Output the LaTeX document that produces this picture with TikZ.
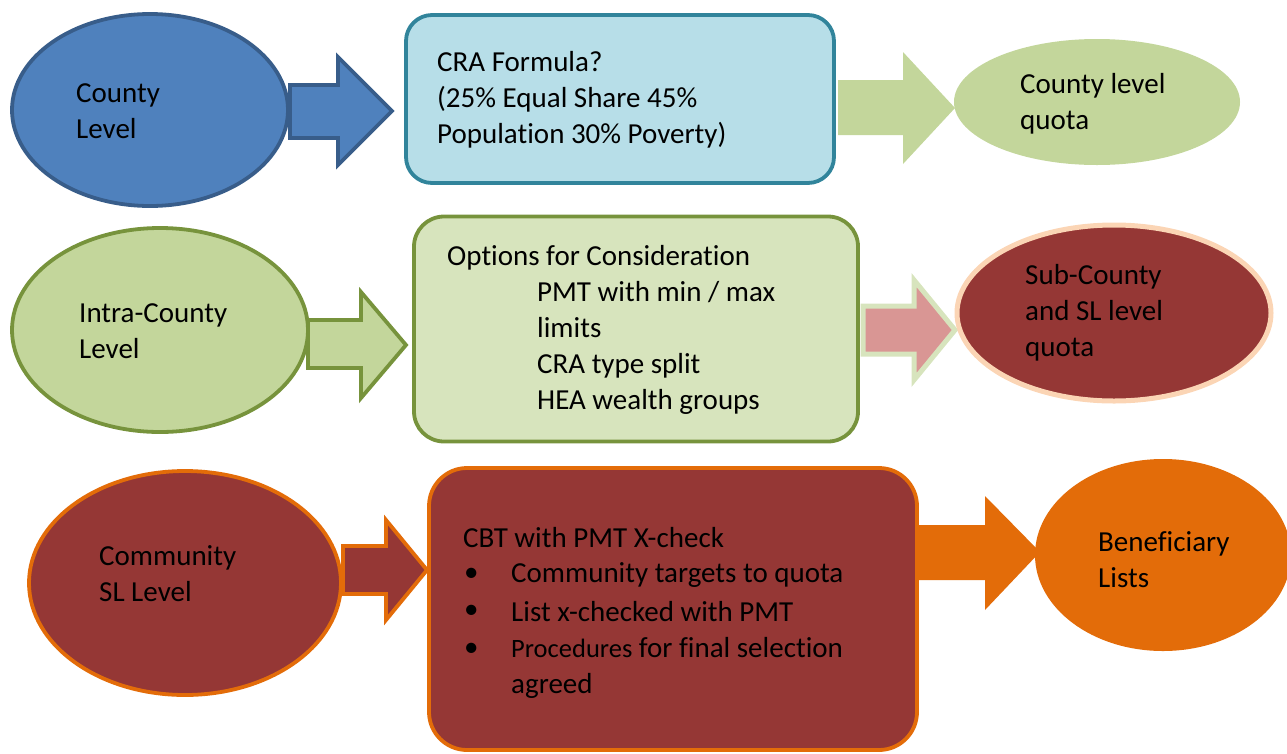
\documentclass[tikz,border=0pt]{standalone}
\usepackage{fontspec}
\setmainfont{Carlito}[Ligatures={NoCommon}]
\usetikzlibrary{shapes.geometric}
\definecolor{cblue}{HTML}{4F81BD}
\definecolor{cblueD}{HTML}{385D8A}
\definecolor{clblue}{HTML}{B7DEE8}
\definecolor{cteal}{HTML}{31849B}
\definecolor{cgreen}{HTML}{C3D69B}
\definecolor{cgreenD}{HTML}{77933C}
\definecolor{cpale}{HTML}{D7E4BD}
\definecolor{cpink}{HTML}{D99694}
\definecolor{cred}{HTML}{953735}
\definecolor{cpeach}{HTML}{FBD5B5}
\definecolor{corange}{HTML}{E36C09}
\tikzset{
  ell/.style={ellipse, inner sep=0pt, line width=3.8pt},
  rbox/.style={rectangle, inner sep=0pt, line width=3.8pt},
  txt/.style={font=\fontsize{29}{36}\selectfont, align=left, inner sep=0pt, text=black},
  barrow/.style={line width=3.8pt, line join=miter},
}
\begin{document}
\begin{tikzpicture}[x=1pt,y=-1pt]
\useasboundingbox (0,0) rectangle (1287,753);
\clip (0,0) rectangle (1287,753);

% ---------- Row 1 ----------
\node[ell, draw=cblueD, fill=cblue, minimum width=276pt, minimum height=192pt] (e1) at (150,110) {};
\node[rbox, draw=cteal, fill=clblue, rounded corners=26pt, minimum width=428pt, minimum height=168pt] (r1) at (620,99) {};
\node[ell, fill=cgreen, minimum width=286pt, minimum height=126pt] (e2) at (1097,102) {};
\draw[barrow, draw=cblueD, fill=cblue]
  (290,85) -- (338,85) -- (338,57) -- (392,111) -- (338,165) -- (338,138) -- (290,138) -- cycle;
\fill[cgreen]
  (838,80) -- (903,80) -- (903,52) -- (955,108) -- (903,164) -- (903,135) -- (838,135) -- cycle;

\node[txt, anchor=west] (t1) at (76,111) {County\\Level};
\node[txt, anchor=west] (t2) at (437,100) {CRA Formula?\\(25\% Equal Share 45\%\\Population 30\% Poverty)};
\node[txt, anchor=west] (t3) at (1020,104) {County level\\quota};

% ---------- Row 2 ----------
\node[ell, draw=cgreenD, fill=cgreen, minimum width=296pt, minimum height=204pt] (e3) at (160,330) {};
\draw[barrow, draw=cgreenD, fill=cgreen]
  (308,320) -- (361,320) -- (361,292) -- (406,345) -- (361,398) -- (361,368) -- (308,368) -- cycle;
\node[rbox, draw=cgreenD, fill=cpale, rounded corners=30pt, minimum width=444pt, minimum height=225pt] (r2) at (636,329) {};
\draw[line width=5pt, draw=cpale, fill=cpink, line join=miter]
  (863,306) -- (914,306) -- (914,280) -- (955,330) -- (914,380) -- (914,354) -- (863,354) -- cycle;
\node[ell, draw=cpeach, fill=cred, line width=5pt, minimum width=314pt, minimum height=176pt] (e4) at (1114,313) {};

\node[txt, anchor=west] (t4) at (79,331) {Intra-County\\Level};
\node[txt, anchor=west] (t5) at (447,258) {Options for Consideration};
\node[txt, anchor=west] (t6) at (537,348) {PMT with min / max\\limits\\CRA type split\\HEA wealth groups};
\node[txt, anchor=west] (t7) at (1025,313) {Sub-County\\and SL level\\quota};

% ---------- Row 3 ----------
\node[ell, draw=corange, fill=cred, minimum width=312pt, minimum height=224pt] (e5) at (185,583) {};
\draw[barrow, draw=corange, fill=cred]
  (343,546) -- (386,546) -- (386,520) -- (427,570) -- (386,620) -- (386,594) -- (343,594) -- cycle;
\node[rbox, draw=corange, fill=cred, rounded corners=38pt, minimum width=488pt, minimum height=282pt] (r3) at (673,609) {};
\fill[corange]
  (918,525) -- (985,525) -- (985,496) -- (1040,552) -- (985,610) -- (985,580) -- (918,580) -- cycle;
\node[ell, fill=corange, minimum width=256pt, minimum height=192pt] (e6) at (1163,555) {};

\node[txt, anchor=west] (t8) at (99,574) {Community\\SL Level};
\node[txt, anchor=west] (t9) at (463,538) {CBT with PMT X-check};
\node[txt, anchor=west] (b1) at (464,575) {\textbullet};
\node[txt, anchor=west] (t10) at (511,575) {Community targets to quota};
\node[txt, anchor=west] (b2) at (464,612) {\textbullet};
\node[txt, anchor=west] (t11) at (511,612) {List x-checked with PMT};
\node[txt, anchor=west] (b3) at (464,650) {\textbullet};
\node[txt, anchor=west] (t12) at (511,668) {{\fontsize{26.5}{36}\selectfont Procedures} for final selection\\agreed};
\node[txt, anchor=west] (t13) at (1098,560) {Beneficiary\\Lists};
\end{tikzpicture}
\end{document}
